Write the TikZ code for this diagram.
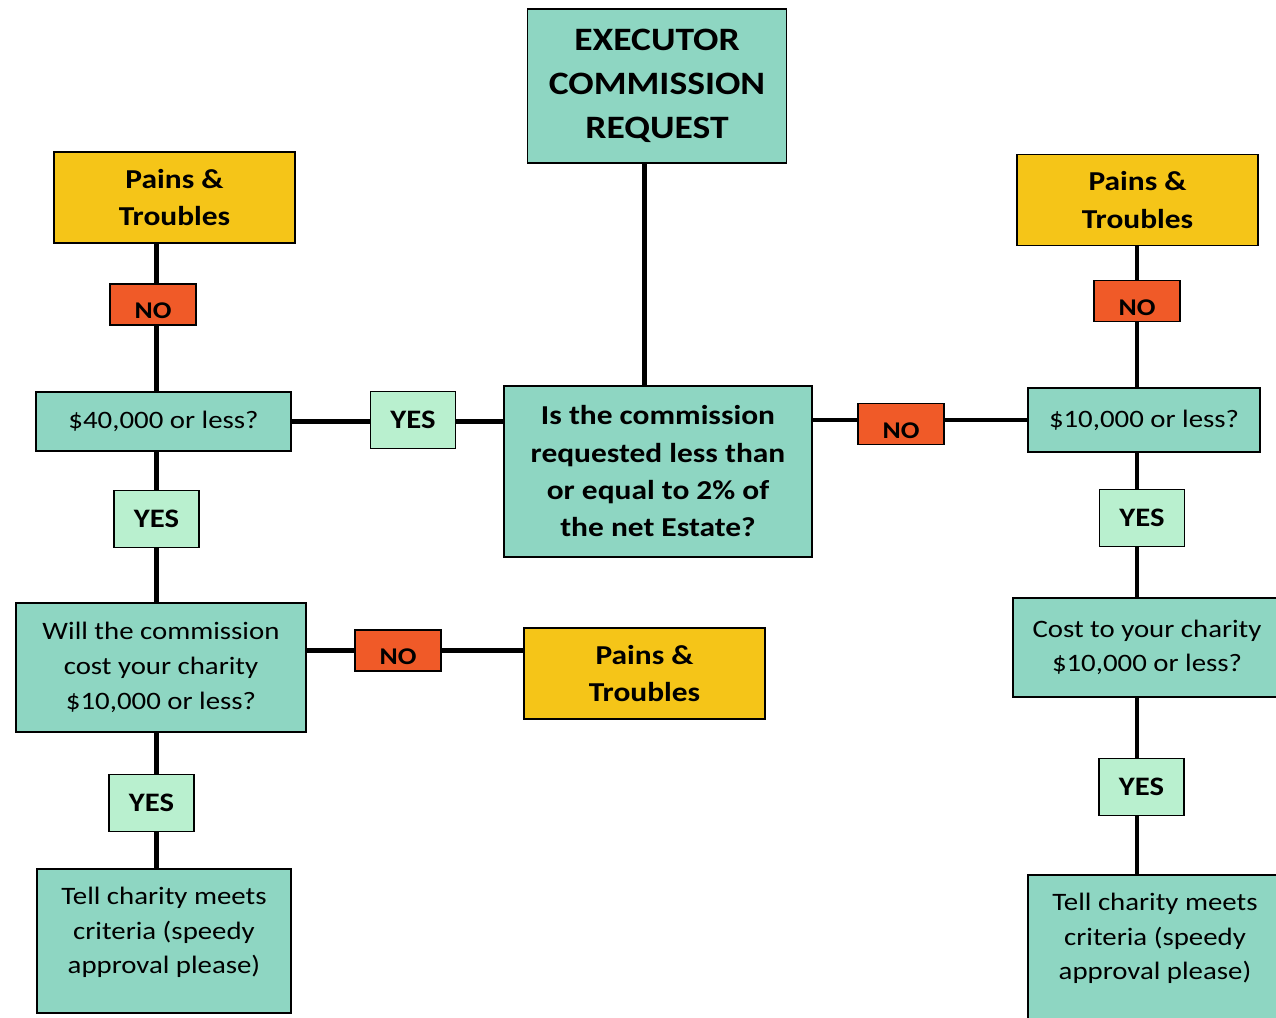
\documentclass[tikz,border=0pt]{standalone}
\usepackage{fontspec}
\setmainfont{Carlito}[FakeStretch=1.15]
\usetikzlibrary{backgrounds}
\definecolor{askfill}{RGB}{142,214,194}
\definecolor{painfill}{RGB}{245,197,24}
\definecolor{nofill}{RGB}{240,90,40}
\definecolor{yesfill}{RGB}{185,240,207}
\tikzstyle{box} = [rectangle, draw=black, line width=1.2pt, align=center,
inner sep=2pt]
\tikzstyle{ask} = [box, fill=askfill, font=\fontsize{18.8}{26}\selectfont]
\tikzstyle{askbold} = [box, fill=askfill, font=\bfseries\fontsize{20.5}{28}\selectfont]
\tikzstyle{pain} = [box, fill=painfill, minimum width=181pt, minimum height=68pt,
font=\bfseries\fontsize{20.5}{28}\selectfont]
\tikzstyle{yes} = [box, fill=yesfill, minimum width=64pt, minimum height=42.5pt,
font=\bfseries\fontsize{20}{20}\selectfont]
\tikzstyle{no} = [box, fill=nofill, minimum width=64.5pt, minimum height=30.5pt,
text height=21pt, text depth=0pt, font=\bfseries\fontsize{18}{18}\selectfont]
\tikzstyle{wire} = [line width=3.6pt]

\begin{document}
\begin{tikzpicture}[x=0.75pt, y=-0.75pt]
  \useasboundingbox (0,0) rectangle (1276,1017);

  % top and centre question
  \node[askbold, minimum width=194pt, minimum height=115.5pt,
    font=\bfseries\fontsize{24.5}{33}\selectfont] (exec) at (657,86)
    {EXECUTOR\\COMMISSION\\REQUEST};
  \node[askbold, minimum width=231pt, minimum height=128pt] (q) at (658,471.5)
    {Is the commission\\requested less than\\or equal to 2\% of\\the net Estate?};

  % left branch
  \node[pain] (painl) at (174.5,197.5) {Pains \&\\Troubles};
  \node[no] (nol) at (153,304.5) {NO};
  \node[ask, minimum width=191pt, minimum height=44pt,
    font=\fontsize{18.8}{26}\selectfont] (forty) at (163.5,421.5) {\$40,000 or less?};
  \node[yes] (yesq) at (413,420) {YES};
  \node[yes] (yesl) at (156.5,519) {YES};
  \node[ask, minimum width=217.5pt, minimum height=96.5pt] (will) at (161,667.5)
    {Will the commission\\cost your charity\\\$10,000 or less?};
  \node[no] (nom) at (398,650.5) {NO};
  \node[pain] (painm) at (644.5,673.5) {Pains \&\\Troubles};
  \node[yes] (yesll) at (151.5,803) {YES};
  \node[ask, minimum width=190.5pt, minimum height=108pt] (telll) at (164,941)
    {Tell charity meets\\criteria (speedy\\approval please)\\[-10pt]};

  % right branch
  \node[pain] (painr) at (1137.5,200) {Pains \&\\Troubles};
  \node[no] (nor) at (1137,301) {NO};
  \node[no] (noq) at (901,424) {NO};
  \node[ask, minimum width=174pt, minimum height=48pt,
    font=\fontsize{18.8}{26}\selectfont] (ten) at (1144,420) {\$10,000 or less?};
  \node[yes] (yesr) at (1142,518) {YES};
  \node[ask, minimum width=201pt, minimum height=74pt] (cost) at (1147,647.5)
    {Cost to your charity\\\$10,000 or less?};
  \node[yes] (yesrr) at (1141.5,787) {YES};
  \node[ask, minimum width=190.5pt, minimum height=108pt] (tellr) at (1155,947)
    {Tell charity meets\\criteria (speedy\\approval please)\\[-10pt]};

  \begin{scope}[on background layer]
    \draw[wire] (exec.south -| painm) -- (q.north -| painm);
    \draw[wire] (forty.east) -- (yesq.west |- forty.east);
    \draw[wire] (yesq.east |- forty.east) -- (q.west |- forty.east);
    \draw[wire] (q.east |- ten) -- (noq.west |- ten);
    \draw[wire] (noq.east |- ten) -- (ten.west);
    \draw[wire] (painl.south -| yesl) -- (telll.north -| yesl);
    \draw[wire] (will.east |- nom) -- (painm.west |- nom);
    \draw[wire] (painr.south -| nor) -- (tellr.north -| nor);
  \end{scope}
\end{tikzpicture}
\end{document}
